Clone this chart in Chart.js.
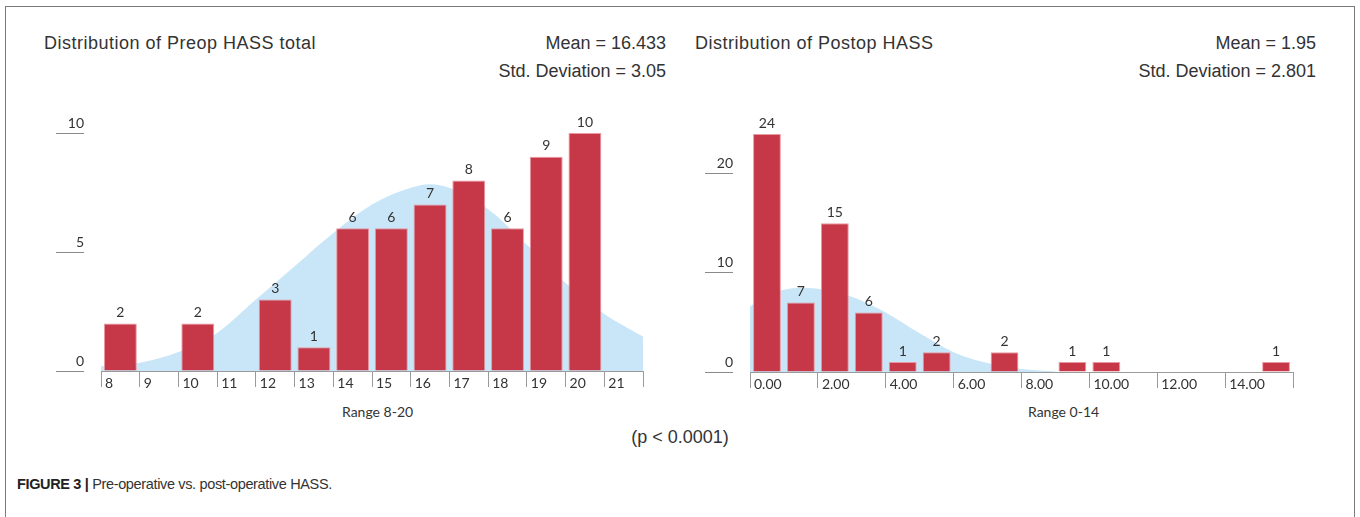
<!DOCTYPE html>
<html>
<head>
<meta charset="utf-8">
<script src="https://cdn.jsdelivr.net/npm/chart.js@4"></script>
<style>
    body { margin: 0; width: 1360px; height: 517px; background: #fff; position: relative; overflow: hidden; font-family: 'Liberation Sans', Arial, sans-serif; color: #333; }
    .frame { position: absolute; left: 5px; top: 6px; width: 1350px; height: 600px; border: 1.5px solid #7a7a7a; box-sizing: border-box; }
    .txt { position: absolute; white-space: nowrap; line-height: 1; }
    .title { font-size: 18px; color: #333; }
    .range { font-family: 'Lato', sans-serif; font-size: 14px; color: #333; }
    canvas { position: absolute; }
</style>
</head>
<body>
<div class="frame"></div>

<div class="txt title" style="left:44px; top:34px; letter-spacing:0.5px;">Distribution of Preop HASS total</div>
<div class="txt title" style="right:694px; top:34px;">Mean = 16.433</div>
<div class="txt title" style="right:694px; top:62px;">Std. Deviation = 3.05</div>

<div class="txt title" style="left:695px; top:34px; letter-spacing:0.5px;">Distribution of Postop HASS</div>
<div class="txt title" style="right:44px; top:34px;">Mean = 1.95</div>
<div class="txt title" style="right:44px; top:62px;">Std. Deviation = 2.801</div>

<div class="txt range" style="left:342px; top:405px;">Range 8-20</div>
<div class="txt range" style="left:1028px; top:405px;">Range 0-14</div>
<div class="txt title" style="left:680px; top:428px; transform:translateX(-50%);">(p &lt; 0.0001)</div>

<div class="txt" style="left:17px; top:477px; font-size:14.5px; color:#333; letter-spacing:-0.35px;"><b style="color:#222;">FIGURE 3 |</b> Pre-operative vs. post-operative HASS.</div>

<canvas id="preop" width="680" height="320" style="left:0px; top:100px;"></canvas>
<canvas id="postop" width="680" height="320" style="left:680px; top:100px;"></canvas>

<script>
// Preop histogram (bins 8..21)
const preopBins = ['8', '9', '10', '11', '12', '13', '14', '15', '16', '17', '18', '19', '20', '21'];
const preopCounts = [2, 0, 2, 0, 3, 1, 6, 6, 7, 8, 6, 9, 10, 0];
// Preop normal curve
const preopCurveX = [8, 9, 10, 11, 12, 13, 14, 15, 16, 16.5, 17, 18, 19, 20, 21, 22];
const preopCurveY = [0.2, 0.35, 0.8, 1.6, 3.0, 4.4, 5.8, 7.0, 7.7, 7.85, 7.7, 6.8, 5.3, 3.7, 2.4, 1.45];

// Postop histogram (bins 0..15)
const postopBins = ['0', '1', '2', '3', '4', '5', '6', '7', '8', '9', '10', '11', '12', '13', '14', '15'];
const postopCounts = [24, 7, 15, 6, 1, 2, 0, 2, 0, 1, 1, 0, 0, 0, 0, 1];
const postopCurveX = [0, 0.5, 1, 1.5, 2, 3, 4, 5, 6, 7, 8, 9];
const postopCurveY = [6.6, 7.8, 8.3, 8.5, 8.4, 7.6, 6.0, 3.9, 2.0, 0.9, 0.3, 0.05];

const BAR_RED = '#C63747';
const CURVE_BLUE = '#C9E6F8';
const AXIS_GRAY = '#9a9a9a';
const TICK_FONT = { family: "'Lato', sans-serif", size: 14 };

// Draws the count above every non-empty bar
const barValueLabels = {
    id: 'barValueLabels',
    afterDatasetsDraw(chart) {
        const ctx = chart.ctx;
        chart.data.datasets.forEach((ds, i) => {
            if (ds.type !== 'bar') return;
            const meta = chart.getDatasetMeta(i);
            ctx.save();
            ctx.font = "14px 'Lato', sans-serif";
            ctx.fillStyle = '#333';
            ctx.textAlign = 'center';
            ctx.textBaseline = 'bottom';
            meta.data.forEach((bar, j) => {
                if (!ds.data[j]) return;
                ctx.fillText(String(ds.data[j]), bar.x, bar.y - 4);
            });
            ctx.restore();
        });
    }
};

function makeHistogram(canvasId, cfg) {
    const ctx = document.getElementById(canvasId).getContext('2d');
    const curve = cfg.curveX.map((x, i) => ({ x, y: cfg.curveY[i] }));

    return new Chart(ctx, {
        type: 'bar',
        data: {
            labels: cfg.bins,
            datasets: [
                {
                    type: 'bar',
                    data: cfg.counts,
                    xAxisID: 'xb',
                    backgroundColor: BAR_RED,
                    borderColor: 'rgba(235,140,150,0.9)',
                    borderWidth: 1,
                    grouped: false,
                    barPercentage: cfg.barPct,
                    categoryPercentage: 1,
                    order: 1
                },
                {
                    type: 'line',
                    data: curve,
                    xAxisID: 'x',
                    backgroundColor: CURVE_BLUE,
                    borderWidth: 0,
                    pointRadius: 0,
                    fill: 'origin',
                    cubicInterpolationMode: 'monotone',
                    order: 2
                }
            ]
        },
        options: {
            responsive: false,
            animation: false,
            layout: { padding: cfg.padding },
            plugins: {
                legend: { display: false },
                tooltip: { enabled: false }
            },
            scales: {
                xb: {
                    type: 'category',
                    display: false,
                    offset: true
                },
                x: {
                    type: 'linear',
                    position: 'bottom',
                    offset: false,
                    min: cfg.xMin,
                    max: cfg.xMax,
                    afterFit: s => { s.height = 30; },
                    border: { display: true, color: AXIS_GRAY, width: 1 },
                    grid: { offset: false, drawOnChartArea: false, tickLength: 16, color: AXIS_GRAY },
                    ticks: {
                        stepSize: cfg.xStep,
                        autoSkip: false,
                        maxRotation: 0,
                        align: 'start',
                        labelOffset: 4,
                        padding: -12,
                        color: '#333',
                        font: TICK_FONT,
                        callback: v => (v === cfg.xMax ? '' : cfg.xFormat(v))
                    }
                },
                y: {
                    min: 0,
                    max: cfg.yMax,
                    afterFit: s => { s.width = 45; },
                    afterBuildTicks: s => { s.ticks = s.ticks.filter(t => t.value % cfg.yStep === 0); },
                    border: { display: false },
                    grid: {
                        drawOnChartArea: false,
                        tickLength: 45,
                        tickBorderDash: [28, 17],
                        color: '#8a8a8a'
                    },
                    ticks: {
                        stepSize: cfg.yStep,
                        padding: -28,
                        labelOffset: -10,
                        color: '#333',
                        font: TICK_FONT
                    }
                }
            }
        },
        plugins: [barValueLabels]
    });
}

makeHistogram('preop', {
    bins: preopBins,
    counts: preopCounts,
    curveX: preopCurveX,
    curveY: preopCurveY,
    xMin: 8, xMax: 22, xStep: 1,
    xFormat: v => String(v),
    yMax: 10, yStep: 5,
    barPct: 0.85,
    padding: { left: 56, right: 37, top: 33, bottom: 19 }
});

makeHistogram('postop', {
    bins: postopBins,
    counts: postopCounts,
    curveX: postopCurveX,
    curveY: postopCurveY,
    xMin: 0, xMax: 16, xStep: 2,
    xFormat: v => v.toFixed(2),
    yMax: 24, yStep: 10,
    barPct: 0.82,
    padding: { left: 25, right: 67, top: 34, bottom: 18 }
});
</script>
</body>
</html>
